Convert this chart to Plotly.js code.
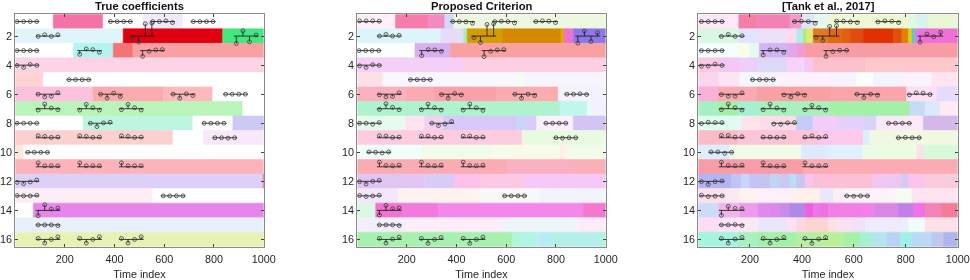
<!DOCTYPE html>
<html><head><meta charset="utf-8">
<script src="https://cdn.plot.ly/plotly-3.0.1.min.js"></script>
<style>html,body{margin:0;padding:0;background:#fff}#c{width:970px;height:280px;filter:blur(0.35px)}</style>
</head><body><div id="c"></div>
<script>
const panelTitles=['True coefficients','Proposed Criterion','[Tank et al., 2017]'];
const xTicks=[200,400,600,800,1000];
const yTicks=[2,4,6,8,10,12,14,16];

// band edges per row (time index), one list per row 1..16
const edgesTrue=[
[1,154,354,515,675,1000],[1,435,835,1000],[1,235,395,474,1000],[1,1000],
[1,114,1000],[1,314,596,795,1000],[1,916,1000],[1,274,715,876,1000],
[1,635,757,1000],[1,35,1000],[1,1000],[1,998,1000],
[1,554,1000],[1,74,1000],[1,1000],[1,1000]];
const colorsTrue=[
['#ffffff','#f472a6','#ffffff','#f0eafa','#ffffff'],['#e0f5fa','#e0000f','#41e87f'],['#ffffff','#b4f4ee','#f57275','#f9a0a2'],['#fdd3e6'],
['#ffd3d3','#ffffff'],['#fcc1dd','#fcaaae','#fdb8bc','#ffffff'],['#bbf4bb','#ffffff'],['#ffffff','#bdf5e0','#ffffff','#cdc9f5'],
['#fdd0d0','#ffffff','#f8e8fa'],['#ffe6d9','#ffffff'],['#feb3ba'],['#dcd0f8','#f06080'],
['#fdeef5','#ffffff'],['#ffffff','#e785ea'],['#e8f0fc'],['#e6f2b4']];

const edgesProposed=[
[1,155,286,353,389,1000],[1,337,429,443,585,820,833,871,1000],[1,233,376,1000],[1,430,1000],
[1,103,641,676,1000],[1,200,313,561,809,1000],[1,816,926,950,1000],[1,195,272,349,641,676,722,755,870,1000],
[1,664,1000],[1,259,547,816,843,1000],[1,601,870,1000],[1,272,393,494,675,1000],
[1,166,494,735,1000],[1,75,185,326,910,1000],[1,199,588,886,1000],[1,624,662,731,778,977,1000]];
const colorsProposed=[
['#fff0f8','#f57cab','#f28ac0','#d0d8fa','#ecf8e0'],['#dcf5fa','#e6dcfa','#a0f0c0','#d49c00','#d58900','#e0a800','#ee70d0','#8d78ea'],['#fbfffd','#d8b0f0','#f9a0a2'],['#f4cff8','#fdcfe2'],
['#fde0e6','#f8f6fe','#f0fcf4','#f6f5fe'],['#fbb0c0','#fbaab4','#fba0a8','#fcabb0','#f4f2fe'],['#aef3cd','#c0f6ec','#e8fafa','#f4f0fe'],['#e6fbee','#fde4ee','#f2d0f0','#d8c8f8','#ccd4fa','#d8ccf8','#faf0fa','#fcf0fc','#d4c4f5'],
['#fdcbe0','#e8fae0'],['#f0fdfa','#f0fbea','#f8faea','#fff0e8','#f0fbea'],['#fbabb2','#f9b0c0','#fbb0b8'],['#e0c4f2','#d8ccf6','#fcc0ea','#fdc8e4','#f6c8f8'],
['#f4e6fc','#fff3f0','#f8f8f8','#f2f4fc'],['#dcf8e0','#f274d0','#f27adc','#f488ea','#f278d0'],['#f4eefc','#fdeefa','#eef6fc','#fcecfa'],['#a8f0b0','#b0f4dc','#b4f4e4','#b8ecf0','#b4f0e8','#b0f4d8']];

const edgesTank=[
[1,157,225,354,399,450,502,811,843,888,1000],
[1,157,232,341,380,405,418,444,502,553,586,637,753,785,811,824,834,849,1000],
[1,157,199,236,347,380,412,1000],
[1,80,161,232,341,412,444,644,1000],
[1,80,161,232,309,502,611,676,785,901,1000],
[1,77,225,514,803,919,1000],
[1,77,154,238,507,816,874,932,1000],
[1,167,238,379,443,533,636,688,868,1000],
[1,154,463,636,662,1000],
[1,122,398,500,636,842,868,1000],
[1,405,1000],
[1,129,167,199,277,315,354,380,412,444,674,714,779,811,875,1000],
[1,109,161,232,367,470,521,566,759,824,1000],
[1,80,161,232,270,315,354,414,444,470,502,631,676,772,830,875,940,1000],
[1,80,161,232,341,380,412,502,541,592,644,785,811,875,1000],
[1,154,232,380,470,566,624,676,727,779,824,901,946,1000]];
const colorsTank=[
['#fde8f8','#f47ea4','#f282b4','#f39ac8','#e4e4f8','#e4f8f0','#eef8d4','#e0f8e0','#d4f4ec','#e8f8d4'],
['#d8f8e4','#e0e4fc','#ece0f8','#fcdcec','#acecf0','#a8ec80','#e0e870','#e07820','#e06810','#e06010','#e04c10','#e03000','#e05008','#e08008','#e8d000','#40d8c0','#c888f0','#f070d8'],
['#f4fefc','#fbfbe8','#e4faf0','#d4b4f0','#e0a8e8','#f09cd4','#f89ca4'],
['#fcc8e4','#f4c8f4','#eccefa','#dcd8f8','#f4d4f8','#f4c8f0','#fcc0cc','#fcc8cc'],
['#fcd4ec','#fde4f4','#f4f8fc','#f8f2fc','#fdf2fc','#f6f2fe','#f8fefa','#f4f4fe','#faf2fc','#fde4f0'],
['#fab0d8','#fbaab4','#f9a0a4','#fba4ac','#fce0f4','#e4dcfa'],
['#a4f0c0','#a4f0a8','#a4f0d0','#a8f0bc','#a4f0a8','#c4dcf8','#dce8fc','#fdeaf4'],
['#e0fbf0','#fde4ea','#fcdce8','#c4ccf8','#f4ccf8','#e4d0f8','#d8d4f8','#fce8f8','#d4b8ec'],
['#fbbcc8','#fcc4d8','#fcc8ec','#d8f0f8','#f2f8e0'],
['#e0ecfc','#f0fce8','#e0e8fc','#e0f0fc','#ecfce4','#fce0ea','#d8f8dc'],
['#f89ca8','#fcaab4'],
['#b4b4f0','#c0c4f4','#c8d4f8','#c4c4f4','#c0d4f4','#ccc8f4','#bcdcf4','#c8c4f4','#f8c4ee','#fcc0d6','#f4c4f0','#ecc8f0','#d8c8f4','#fcc4ec','#f8ccdc'],
['#fde0ec','#fde8f2','#fff2ee','#fdf0fa','#fff0ea','#e8e8fc','#fdeef4','#fdf2f6','#f4fcf4','#fde4f0'],
['#ccdcf8','#f0b4e8','#ec9ce8','#dc8ce8','#dc88e8','#c88ce8','#b088e8','#f060dc','#e878e8','#f070e0','#f080e4','#f280ec','#d888e4','#c080e8','#f070e8','#f084b4','#f47c98'],
['#fddcf4','#fde4f8','#fce8f4','#e8e6fa','#fde0f4','#fdd8e0','#fdd4d4','#fde0e4','#fde0f0','#f0e0f8','#eeecfc','#e8f0fc','#f0fcf8','#fde0e8'],
['#a4f4e0','#a8f0c0','#a4f0a8','#b4f0a0','#b8f09c','#a8f0a8','#a8f0d4','#b4e4f0','#b8d4f0','#a0f0e8','#bcd8f4','#bcc8f0','#b0b4ec']];

// small stem windows: first lag's time index per row, and four coefficients (x 1/43.5)
const startsTrue=[[8,384,554,717],[93,471,890],[8,260,513],[8],[217],[93,344,636,847],[93,260,428],[8,303,761],[93,260,428,804],[51],[93,260,428],[8],[8,596],[93],[93],[93,260,428]];
const stemsTrue=[
[[0,0,0,0],[0,0,0,0],[0,0,2,-3],[0,0,0,0]],
[[-1,4,-1,4],[-4,-18,37,39],[-22,16,-17,3]],
[[0,0,0,0],[-11,5,3,-5],[-17,-2,2,3]],
[[-1,-7,2,-1]],
[[0,0,0,0]],
[[0,-8,-6,4],[0,-12,3,-7],[0,-12,1,-4],[0,0,0,0]],
[[-4,14,2,-3],[-4,13,3,-4],[-3,13,3,-4]],
[[0,0,0,0],[0,-10,1,3],[0,0,0,0]],
[[6,4,1,2],[6,4,1,2],[6,4,1,2],[0,0,-1,0]],
[[0,0,0,0]],
[[12,3,3,3],[12,3,3,3],[12,3,3,3]],
[[-3,-7,-2,4]],
[[1,0,0,2],[0,0,0,0]],
[[-16,17,4,7]],
[[0,0,0,-2]],
[[3,-11,0,8],[3,-11,0,8],[3,-11,0,8]]];

const startsProposed=[[10,385,554,719],[90,470,888],[8,260,511],[10],[215],[90,340,635,844],[90,259,427],[10,301,760],[90,259,427,800],[48],[90,259,427],[10],[10,594],[90],[90],[90,259,427]];
const stemsProposed=[
[[2,2,2,1],[0,0,-1,-5],[0,1,0,-4],[0,2,1,-3]],
[[0,5,0,2],[-5,-19,35,37],[-21,15,-16,10]],
[[0,0,0,0],[-15,3,2,-2],[-18,-2,2,3]],
[[-2,-7,1,-1]],
[[0,0,0,0]],
[[-2,-8,-7,4],[-1,-12,2,-2],[0,-12,0,-4],[0,0,1,-1]],
[[-2,15,4,-3],[-3,14,3,-4],[-4,14,3,-5]],
[[0,0,-3,2],[0,-7,-2,5],[0,0,0,0]],
[[6,5,1,2],[5,5,1,2],[5,5,1,2],[0,-1,0,0]],
[[1,0,-2,1]],
[[14,4,3,5],[14,4,3,5],[14,4,3,5]],
[[-1,-8,0,3]],
[[1,-2,0,2],[0,0,0,0]],
[[-14,15,5,7]],
[[0,0,0,-2]],
[[3,-11,1,7],[3,-12,0,6],[3,-12,0,7]]];

const startsTank=[[13,372,534,693],[90,454,855],[13,251,493],[13],[210],[90,331,612,814],[90,251,412],[13,292,734],[90,251,412,772],[50],[90,251,412],[13],[13,573],[90],[90],[90,251,412]];
const stemsTank=[
[[0,0,0,0],[0,1,0,-5],[1,1,-1,-3],[-1,2,1,-3]],
[[-1,5,-1,1],[-4,-13,29,31],[-18,6,-2,11]],
[[0,0,0,0],[-13,2,2,-5],[-17,-3,1,1]],
[[-3,-3,3,-1]],
[[0,0,0,0]],
[[-1,-6,-6,4],[-2,-8,1,-3],[0,-10,0,-3],[-2,4,3,-1]],
[[-3,14,3,-4],[-3,14,2,-4],[-3,10,3,-4]],
[[-1,3,2,2],[-2,-3,1,2],[0,0,0,0]],
[[7,7,2,3],[2,2,1,2],[2,6,1,4],[0,1,0,0]],
[[1,1,-3,0]],
[[14,4,3,5],[12,3,2,3],[12,3,3,4]],
[[-1,-9,-1,1]],
[[2,-2,-1,0],[0,-1,0,0]],
[[-15,12,6,5]],
[[0,0,1,-2]],
[[3,-11,1,6],[3,-11,0,6],[3,-12,1,6]]];

const panels=[
 {e:edgesTrue,c:colorsTrue,s:startsTrue,v:stemsTrue,l:15.3,r:263.7},
 {e:edgesProposed,c:colorsProposed,s:startsProposed,v:stemsProposed,l:357.3,r:605.7},
 {e:edgesTank,c:colorsTank,s:startsTank,v:stemsTank,l:698.3,r:957.7}];
const W=970,H=280,TOP=14.3,BOT=246.7,LAG=26.4,PAD=10,UNIT=43.5;
const font={family:'"Liberation Sans",Arial,sans-serif',size:11,color:'#262626'};
const traces=[],layout={width:W,height:H,margin:{l:0,r:0,t:0,b:0},paper_bgcolor:'#fff',plot_bgcolor:'#fff',barmode:'overlay',showlegend:false,font,annotations:[]};

panels.forEach((p,i)=>{
  const ax=i?String(i+1):'';
  const by=[],bx=[],bb=[],bc=[];
  p.e.forEach((edges,r)=>{for(let k=0;k<edges.length-1;k++){by.push(r+1);bb.push(edges[k]);bx.push(edges[k+1]-edges[k]);bc.push(p.c[r][k]);}});
  traces.push({type:'bar',orientation:'h',y:by,x:bx,base:bb,width:1,marker:{color:bc,line:{width:0.6,color:bc}},xaxis:'x'+ax,yaxis:'y'+ax,hoverinfo:'skip'});
  const lx=[],ly=[],mx=[],my=[];
  p.s.forEach((starts,r)=>{starts.forEach((s,g)=>{
    const row=r+1,vals=p.v[r][g];
    lx.push(s-PAD,s+3*LAG+PAD,null);ly.push(row,row,null);
    vals.forEach((v,k)=>{const x=s+k*LAG,y=row-v/UNIT;lx.push(x,x,null);ly.push(row,y,null);mx.push(x);my.push(y);});
  });});
  traces.push({type:'scatter',mode:'lines',x:lx,y:ly,line:{color:'#111',width:0.8},xaxis:'x'+ax,yaxis:'y'+ax,hoverinfo:'skip'});
  traces.push({type:'scatter',mode:'markers',x:mx,y:my,marker:{symbol:'circle-open',size:3.9,color:'#3a3a3a',line:{width:0.8,color:'#3a3a3a'}},xaxis:'x'+ax,yaxis:'y'+ax,hoverinfo:'skip'});
  layout['xaxis'+ax]={domain:[p.l/W,p.r/W],range:[1,1000],anchor:'y'+ax,tickvals:xTicks,ticks:'inside',ticklen:3,tickcolor:'#444',showline:true,mirror:'allticks',linecolor:'#8a8a8a',linewidth:1,showgrid:false,zeroline:false,title:{text:'Time index',font:{size:10.8,color:'#262626'},standoff:6},tickfont:{size:10.8,color:'#262626'},ticklabelstandoff:2};
  layout['yaxis'+ax]={domain:[1-BOT/H,1-TOP/H],range:[16.5,0.5],anchor:'x'+ax,tickvals:yTicks,ticks:'inside',ticklen:3,tickcolor:'#444',showline:true,mirror:'allticks',linecolor:'#8a8a8a',linewidth:1,showgrid:false,zeroline:false,tickfont:{size:10.8,color:'#262626'}};
  layout.annotations.push({xref:'paper',yref:'paper',x:(p.l+p.r)/2/W,y:1-5.5/H,yanchor:'middle',xanchor:'center',showarrow:false,text:'<b>'+panelTitles[i]+'</b>',font:{size:11.2,color:'#111'}});
});
Plotly.newPlot('c',traces,layout,{displayModeBar:false,staticPlot:true});
</script></body></html>
